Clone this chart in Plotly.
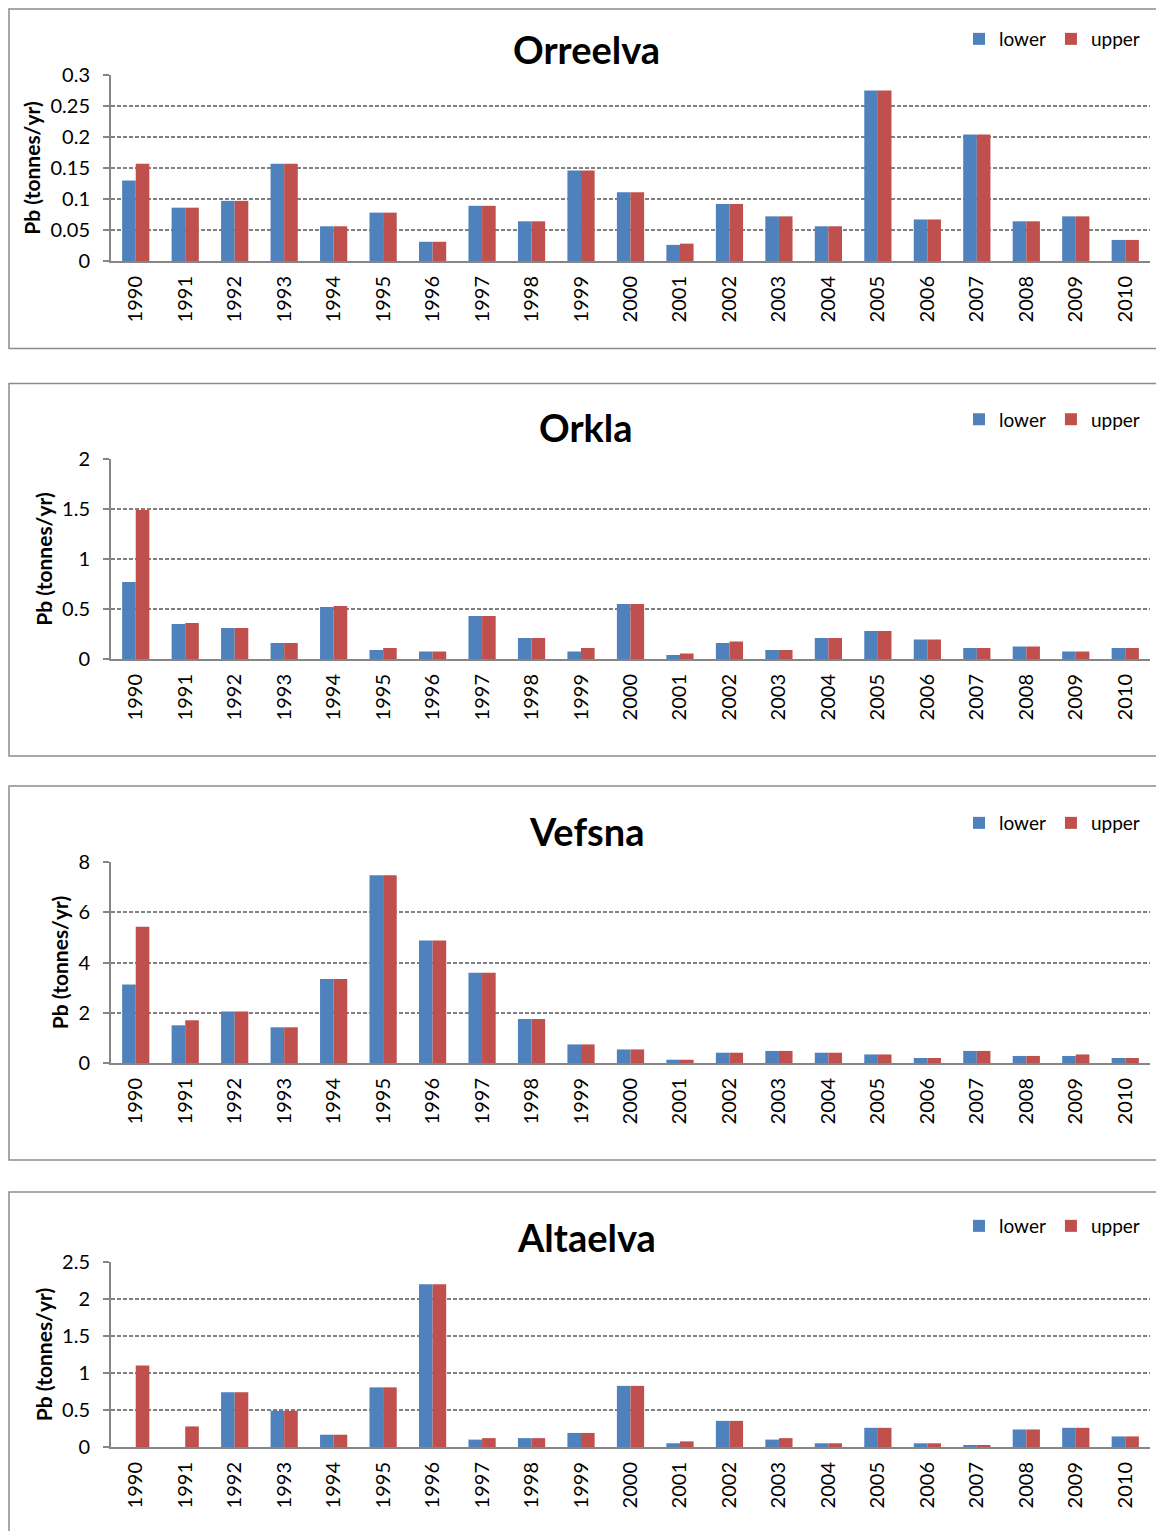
import plotly.graph_objects as go

# ---------------- data ----------------
years = [str(y) for y in range(1990, 2011)]

orreelva_lower = [0.130, 0.086, 0.097, 0.157, 0.056, 0.078, 0.031, 0.089, 0.064, 0.146,
                  0.111, 0.026, 0.092, 0.072, 0.056, 0.275, 0.067, 0.204, 0.064, 0.072, 0.034]
orreelva_upper = [0.157, 0.086, 0.097, 0.157, 0.056, 0.078, 0.031, 0.089, 0.064, 0.146,
                  0.111, 0.028, 0.092, 0.072, 0.056, 0.275, 0.067, 0.204, 0.064, 0.072, 0.034]

orkla_lower = [0.77, 0.35, 0.31, 0.16, 0.52, 0.09, 0.075, 0.43, 0.21, 0.075,
               0.55, 0.04, 0.16, 0.09, 0.21, 0.28, 0.195, 0.11, 0.125, 0.075, 0.11]
orkla_upper = [1.49, 0.36, 0.31, 0.16, 0.53, 0.11, 0.075, 0.43, 0.21, 0.11,
               0.55, 0.055, 0.175, 0.09, 0.21, 0.28, 0.195, 0.11, 0.125, 0.075, 0.11]

vefsna_lower = [3.12, 1.50, 2.05, 1.42, 3.34, 7.47, 4.88, 3.59, 1.75, 0.74,
                0.54, 0.13, 0.41, 0.48, 0.41, 0.34, 0.20, 0.48, 0.28, 0.28, 0.20]
vefsna_upper = [5.42, 1.70, 2.05, 1.42, 3.34, 7.47, 4.88, 3.59, 1.75, 0.74,
                0.54, 0.13, 0.41, 0.48, 0.41, 0.34, 0.20, 0.48, 0.28, 0.34, 0.20]

altaelva_lower = [None, None, 0.74, 0.49, 0.166, 0.806, 2.20, 0.10, 0.12, 0.19,
                  0.826, 0.05, 0.353, 0.10, 0.05, 0.259, 0.05, 0.027, 0.237, 0.259, 0.143]
altaelva_upper = [1.10, 0.278, 0.74, 0.49, 0.166, 0.806, 2.20, 0.12, 0.12, 0.19,
                  0.826, 0.076, 0.353, 0.12, 0.05, 0.259, 0.05, 0.027, 0.237, 0.259, 0.143]

titles = ["Orreelva", "Orkla", "Vefsna", "Altaelva"]
lowers = [orreelva_lower, orkla_lower, vefsna_lower, altaelva_lower]
uppers = [orreelva_upper, orkla_upper, vefsna_upper, altaelva_upper]
y_max = [0.3, 2, 8, 2.5]
y_step = [0.05, 0.5, 2, 0.5]
series_names = ["lower", "upper"]
y_title = "Pb (tonnes/yr)"

# ---------------- layout geometry (pixels in the screenshot) ----------------
W, H = 1164, 1531
OFF = 8  # page body margin
def px_x(x):
    return (x - OFF) / W
def px_y(y):
    return 1 - (y - OFF) / H

plot_x = (111, 1150)
plot_y = [(75, 261), (459, 659), (862, 1063), (1262, 1447)]
border_y = [(9, 348.5), (383.5, 756), (786, 1160), (1192, 1580)]
border_left = 9
title_y = [49, 427, 831, 1237]
legend_y = [39, 419.5, 823, 1226]

BLUE = "#4F81BD"
RED = "#C0504D"
GREY = "#868686"
GRID = "#808080"
FONT = "Lato"

fig = go.Figure()
layout = dict(
    width=W, height=H,
    margin=dict(l=0, r=0, t=0, b=0, autoexpand=False),
    paper_bgcolor="white", plot_bgcolor="white",
    barmode="group", bargap=0.45, bargroupgap=0,
    font=dict(family=FONT, color="black"),
    showlegend=True,
)
shapes = []
annotations = []

for i in range(4):
    sfx = "" if i == 0 else str(i + 1)
    leg = "legend" + sfx
    fig.add_trace(go.Bar(x=years, y=lowers[i], name=series_names[0], marker_color=BLUE,
                         marker_line_width=0, xaxis="x" + sfx, yaxis="y" + sfx, legend=leg))
    fig.add_trace(go.Bar(x=years, y=uppers[i], name=series_names[1], marker_color=RED,
                         marker_line_width=0, xaxis="x" + sfx, yaxis="y" + sfx, legend=leg))

    layout["xaxis" + sfx] = dict(
        domain=[px_x(plot_x[0]), px_x(plot_x[1])],
        anchor="y" + sfx, type="category", automargin=False,
        showline=True, linecolor=GREY, linewidth=2,
        showgrid=False, ticks="", tickangle=-90,
        tickfont=dict(family=FONT, size=20, color="black"),
        ticklabelstandoff=5,
    )
    layout["yaxis" + sfx] = dict(
        domain=[px_y(plot_y[i][1]), px_y(plot_y[i][0])],
        anchor="x" + sfx, range=[0, y_max[i]], dtick=y_step[i], automargin=False,
        showline=True, linecolor=GREY, linewidth=2,
        showgrid=True, gridcolor=GRID, gridwidth=1.5, griddash="4px,2px",
        zeroline=False,
        ticks="outside", ticklen=6, tickcolor=GREY, tickwidth=1.5,
        tickfont=dict(family=FONT, size=20, color="black"),
        ticklabelstandoff=9,
        title=dict(text=y_title, font=dict(family=FONT, size=21, color="black", weight="bold"),
                   standoff=4),
    )
    layout[leg] = dict(
        orientation="h", x=px_x(1145), xanchor="right",
        y=px_y(legend_y[i]), yanchor="middle",
        font=dict(family=FONT, size=19, color="black"),
        bgcolor="rgba(0,0,0,0)", itemwidth=30, itemclick=False,
        traceorder="normal",
    )
    shapes.append(dict(type="rect", xref="paper", yref="paper",
                       x0=px_x(border_left), x1=1.02,
                       y0=px_y(border_y[i][1]), y1=px_y(border_y[i][0]),
                       line=dict(color="#8C8C8C", width=1.5), fillcolor="rgba(0,0,0,0)",
                       layer="below"))
    annotations.append(dict(text=titles[i], xref="paper", yref="paper",
                            x=px_x(586), y=px_y(title_y[i]),
                            xanchor="center", yanchor="middle", showarrow=False,
                            font=dict(family=FONT, size=38, color="black", weight="bold")))

layout["shapes"] = shapes
layout["annotations"] = annotations
fig.update_layout(**layout)

fig.write_html("out.html")
